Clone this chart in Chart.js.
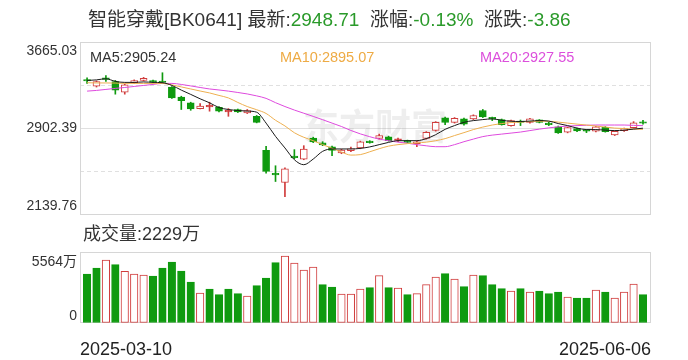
<!DOCTYPE html>
<html>
<head>
<meta charset="utf-8">
<script src="https://cdn.jsdelivr.net/npm/chart.js@4.4.0/dist/chart.umd.min.js"></script>
<style>
  body { margin: 0; background: #fff; width: 688px; height: 360px; position: relative; overflow: hidden;
         font-family: "Liberation Sans", "Noto Sans CJK SC", sans-serif; color: #333; }
  .txt { position: absolute; white-space: pre; line-height: 1; }
  .g { color: #2a9a2a; }
  #k { position: absolute; left: 0; top: 0; }
  #v { position: absolute; left: 0; top: 222px; }
</style>
</head>
<body>
<canvas id="k" width="688" height="222"></canvas>
<canvas id="v" width="688" height="138"></canvas>
<div class="txt" id="title" style="left:88px; top:10px; font-size:19px;"></div>
<div class="txt" id="ma5" style="left:90px; top:50px; font-size:14.5px; color:#333;"></div>
<div class="txt" id="ma10" style="left:280px; top:50px; font-size:14.5px; color:#eeab45;"></div>
<div class="txt" id="ma20" style="left:480px; top:50px; font-size:14.5px; color:#dc4fdc;"></div>
<div class="txt" id="volLabel" style="left:83px; top:225px; font-size:18px;"></div>
<script>
const dates = [
  '2025-03-10','2025-03-11','2025-03-12','2025-03-13','2025-03-14','2025-03-17','2025-03-18','2025-03-19','2025-03-20','2025-03-21',
  '2025-03-24','2025-03-25','2025-03-26','2025-03-27','2025-03-28','2025-03-31','2025-04-01','2025-04-02','2025-04-03','2025-04-07',
  '2025-04-08','2025-04-09','2025-04-10','2025-04-11','2025-04-14','2025-04-15','2025-04-16','2025-04-17','2025-04-18','2025-04-21',
  '2025-04-22','2025-04-23','2025-04-24','2025-04-25','2025-04-28','2025-04-29','2025-04-30','2025-05-06','2025-05-07','2025-05-08',
  '2025-05-09','2025-05-12','2025-05-13','2025-05-14','2025-05-15','2025-05-16','2025-05-19','2025-05-20','2025-05-21','2025-05-22',
  '2025-05-23','2025-05-26','2025-05-27','2025-05-28','2025-05-29','2025-05-30','2025-06-03','2025-06-04','2025-06-05','2025-06-06'
];
const open = [3324,3276,3337,3315,3223,3306,3326,3324,3310,3267,
              3179,3129,3078,3093,3090,3049,3070,3040,3010,2709,
              2497,2426,2647,2633,2819,2775,2740,2686,2707,2731,
              2789,2816,2828,2798,2795,2769,2816,2886,2996,2957,
              2987,2987,3061,2989,2981,2928,2963,2957,2979,2943,
              2917,2869,2902,2881,2878,2913,2846,2884,2910,2951];
const high = [3350,3322,3370,3326,3295,3331,3353,3329,3394,3273,
              3187,3134,3123,3134,3096,3078,3074,3070,3017,2745,
              2574,2556,2716,2751,2826,2786,2747,2720,2738,2791,
              2795,2853,2835,2817,2800,2791,2875,2963,3003,2999,
              2994,3023,3070,3003,2986,2977,2977,2993,2981,2959,
              2924,2915,2906,2893,2922,2919,2880,2906,2963,2975];
const low = [3300,3268,3318,3205,3205,3300,3322,3306,3300,3167,
             3070,3063,3074,3055,3048,3010,3043,3034,2952,2509,
             2435,2302,2636,2627,2778,2751,2663,2680,2698,2724,
             2773,2808,2791,2786,2776,2742,2808,2879,2937,2950,
             2932,2981,2999,2972,2932,2924,2928,2950,2952,2928,
             2859,2864,2875,2866,2873,2870,2840,2876,2905,2940];
const close = [3321,3317,3335,3240,3288,3324,3344,3311,3308,3173,
               3147,3076,3099,3096,3055,3052,3048,3061,2957,2524,
               2494,2547,2645,2722,2784,2757,2709,2713,2724,2784,
               2778,2840,2795,2804,2780,2784,2869,2957,2955,2993,
               2940,3017,3005,2987,2937,2972,2955,2987,2956,2937,
               2863,2910,2881,2879,2917,2875,2877,2901,2952.57,2948.71];
const ma5 = [3326,3331,3341,3318,3309,3309,3313,3309,3306,3282,
             3241,3203,3164,3129,3087,3070,3061,3056,3046,2950,
             2833,2731,2627,2583,2633,2701,2722,2722,2722,2727,
             2740,2760,2780,2795,2795,2795,2813,2848,2895,2928,
             2957,2972,2981,2987,2975,2966,2964,2968,2972,2968,
             2946,2928,2906,2893,2893,2888,2884,2888,2897,2905.24];
const ma10 = [3306,3304,3304,3303,3300,3300,3300,3300,3300,3287,
              3269,3251,3233,3216,3194,3172,3132,3096,3068,3035,
              2975,2925,2865,2825,2795,2760,2728,2695,2668,2672,
              2697,2724,2747,2760,2769,2776,2782,2795,2813,2840,
              2866,2893,2915,2933,2946,2955,2959,2964,2966,2966,
              2959,2950,2941,2933,2924,2915,2906,2902,2897,2895.07];
const ma20 = [3232,3238,3247,3256,3264,3273,3282,3291,3300,3300,
              3291,3278,3264,3251,3242,3232,3220,3207,3190,3168,
              3130,3096,3065,3037,3009,2980,2950,2920,2885,2855,
              2830,2809,2795,2782,2773,2760,2750,2742,2742,2760,
              2786,2809,2831,2844,2853,2862,2871,2884,2897,2908,
              2917,2924,2928,2931,2933,2933,2933,2933,2930,2927.55];
// 成交量, 万
const vol = [3840,4310,4937,4569,4052,3840,3762,3683,4310,4780,
             4075,3213,2351,2665,2218,2665,2296,2116,2923,3527,
             4726,5251,4702,4154,4389,3002,2821,2273,2273,2665,
             2767,3707,2767,2743,2218,2296,3002,3605,3864,3448,
             2845,3762,3707,3002,2688,2508,2688,2430,2508,2296,
             2430,2038,1959,1959,2586,2430,1959,2430,3056,2229];
const priceTicks = [2139.76, 2902.39, 3665.03];
const volMax = 5564;

const RED = '#d03c3c', GREEN = '#0f9a0f', PALE = '#ffffff';
const FONT = '"Liberation Sans", "Noto Sans CJK SC", sans-serif';
const n = close.length;
const last = close[n - 1], prev = close[n - 2];

document.getElementById('title').innerHTML =
  '智能穿戴[BK0641] 最新:<span class="g">' + last.toFixed(2) + '</span>  涨幅:<span class="g">' +
  ((last - prev) / prev * 100).toFixed(2) + '%</span>  涨跌:<span class="g">' + (last - prev).toFixed(2) + '</span>';
document.getElementById('ma5').textContent = 'MA5:' + ma5[n - 1].toFixed(2);
document.getElementById('ma10').textContent = 'MA10:' + ma10[n - 1].toFixed(2);
document.getElementById('ma20').textContent = 'MA20:' + ma20[n - 1].toFixed(2);
document.getElementById('volLabel').textContent = '成交量:' + vol[n - 1] + '万';

const candleUp = i => close[i] >= open[i];
const volUp = i => close[i] >= (i > 0 ? close[i - 1] : open[i]);
const pts = arr => arr.map((v, i) => ({ x: i, y: v }));

const frame = {
  id: 'frame',
  beforeDatasetsDraw(chart, args, opts) {
    const { ctx, chartArea: a } = chart;
    ctx.save();
    if (opts.mark) {
      ctx.fillStyle = 'rgba(150,150,150,0.16)';
      ctx.font = 'bold 36px "Noto Sans CJK SC"';
      ctx.textAlign = 'center';
      ctx.textBaseline = 'middle';
      ctx.fillText('东方财富', 375, 126);
    }
    ctx.strokeStyle = '#d6d6d6';
    ctx.lineWidth = 1;
    ctx.strokeRect(a.left + 0.5, a.top + 0.5, a.width - 1, a.height - 1);
    ctx.restore();
  }
};

function maLine(label, data, color) {
  return { type: 'line', label, data: pts(data), borderColor: color, borderWidth: 1,
           pointRadius: 0, cubicInterpolationMode: 'monotone', order: 0 };
}

// fixed axis width, and no extra room for the shifted end labels
function fixAxis(s) {
  s.width = 80;
  s.paddingTop = 0;
  s.paddingBottom = 0;
}

const xIndex = { type: 'linear', min: -0.75, max: 59.85, offset: false, display: false };

new Chart(document.getElementById('k'), {
  data: {
    datasets: [
      maLine('MA5', ma5, '#1a1a1a'),
      maLine('MA10', ma10, '#eeb050'),
      maLine('MA20', ma20, '#de4ade'),
      {
        type: 'bar', label: 'wick', order: 2, grouped: false, barThickness: 1,
        data: low.map((v, i) => ({ x: i, y: [v, high[i]] })),
        backgroundColor: c => candleUp(c.dataIndex) ? RED : GREEN
      },
      {
        type: 'bar', label: 'body', order: 1, grouped: false, barThickness: 7, minBarLength: 1.5,
        borderWidth: 1, borderSkipped: false,
        data: open.map((v, i) => ({ x: i, y: [v, close[i]] })),
        backgroundColor: c => {
          const i = c.dataIndex;
          if (!candleUp(i)) return GREEN;
          return close[i] - open[i] > 12 ? PALE : RED;
        },
        borderColor: c => candleUp(c.dataIndex) ? RED : GREEN
      }
    ]
  },
  options: {
    responsive: false,
    animation: false,
    layout: { padding: { top: 42, right: 37, bottom: 7, left: 0 } },
    plugins: { legend: { display: false }, tooltip: { enabled: false }, frame: { mark: true } },
    scales: {
      x: xIndex,
      y: {
        min: priceTicks[0], max: priceTicks[2],
        afterBuildTicks: s => {
          const lo = priceTicks[0], mid = priceTicks[1], hi = priceTicks[2];
          s.ticks = [lo, (lo + mid) / 2, mid, (mid + hi) / 2, hi].map(v => ({ value: v }));
        },
        afterFit: fixAxis,
        grid: {
          drawTicks: false,
          color: c => (c.index === 0 || c.index === 4) ? 'rgba(0,0,0,0)' : '#e0e0e0'
        },
        border: { display: false, dash: c => c.index === 2 ? [] : [4, 3] },
        ticks: {
          padding: 3,
          color: '#333',
          font: c => ({ size: 14, family: FONT, lineHeight: c.index === 0 ? '18px' : c.index === 4 ? '19px' : 1.2 }),
          callback: (v, i) => {
            if (i === 0) return [priceTicks[0].toFixed(2), ''];
            if (i === 2) return priceTicks[1].toFixed(2);
            if (i === 4) return ['', priceTicks[2].toFixed(2)];
            return '';
          }
        }
      }
    }
  },
  plugins: [frame]
});

new Chart(document.getElementById('v'), {
  data: {
    datasets: [{
      type: 'bar', label: '成交量', barThickness: 7.5, borderWidth: 1, borderSkipped: false,
      data: pts(vol),
      backgroundColor: c => volUp(c.dataIndex) ? PALE : GREEN,
      borderColor: c => volUp(c.dataIndex) ? RED : GREEN
    }]
  },
  options: {
    responsive: false,
    animation: false,
    layout: { padding: { top: 30, right: 37, bottom: 0, left: 0 } },
    plugins: { legend: { display: false }, tooltip: { enabled: false }, frame: { mark: false } },
    scales: {
      x: { ...xIndex },
      d: {
        type: 'category', position: 'bottom', labels: dates, offset: false,
        grid: { display: false }, border: { display: false },
        afterFit: s => { s.height = 37; },
        ticks: {
          autoSkip: false, maxRotation: 0, minRotation: 0, align: 'inner', padding: 8,
          color: '#222', font: { size: 18, family: FONT },
          callback: (v, i) => (i === 0 || i === dates.length - 1) ? dates[i] : ''
        }
      },
      y: {
        min: 0, max: volMax,
        afterBuildTicks: s => { s.ticks = [0, volMax / 2, volMax].map(v => ({ value: v })); },
        afterFit: fixAxis,
        grid: { drawTicks: false, color: c => c.index === 1 ? '#e0e0e0' : 'rgba(0,0,0,0)' },
        border: { display: false, dash: [4, 3] },
        ticks: {
          padding: 3,
          color: '#333',
          font: c => ({ size: 14, family: FONT, lineHeight: c.index === 0 ? '14px' : '20px' }),
          callback: (v, i) => i === 0 ? ['0', ''] : i === 2 ? ['', volMax + '万'] : ''
        }
      }
    }
  },
  plugins: [frame]
});
</script>
</body>
</html>
